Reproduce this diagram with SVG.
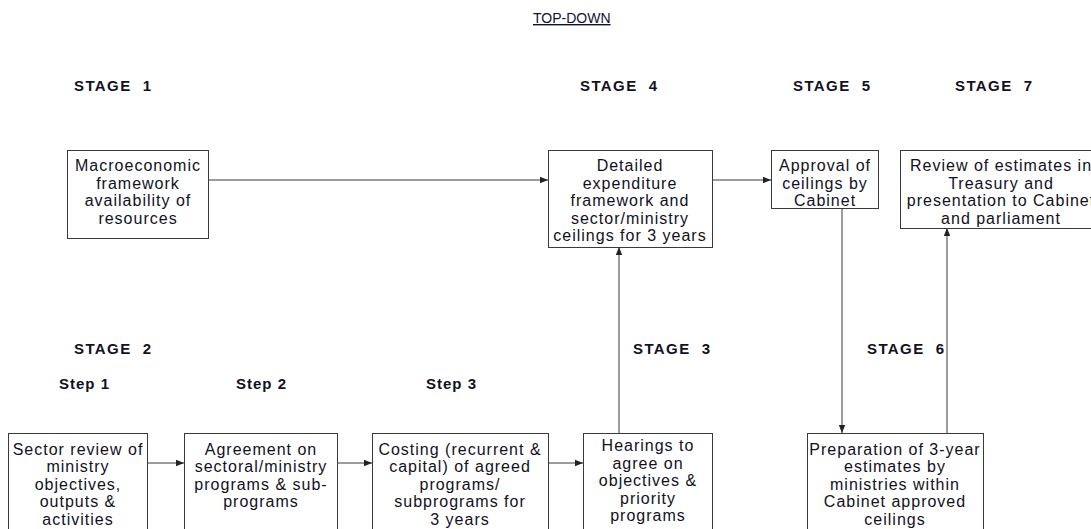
<svg xmlns="http://www.w3.org/2000/svg" width="1091" height="529" viewBox="0 0 1091 529">
<style>
.bg{fill:#ffffff}
.box{fill:#ffffff;stroke:#3a3a3a;stroke-width:1}
.t{font-family:"Liberation Sans",Arial,sans-serif;font-size:16px;letter-spacing:1px;fill:#111122;text-anchor:middle}
.stage{font-family:"Liberation Sans",Arial,sans-serif;font-size:15px;font-weight:bold;fill:#111122;letter-spacing:1.4px}
.step{font-family:"Liberation Sans",Arial,sans-serif;font-size:15px;font-weight:bold;fill:#111122;letter-spacing:1px}
.title{font-family:"Liberation Sans",Arial,sans-serif;font-size:14px;fill:#111133;text-decoration:underline}
.c{stroke:#3a3a3a;stroke-width:1;fill:none;marker-end:url(#ah)}
</style>
<defs>
<marker id="ah" viewBox="0 0 10 10" refX="10" refY="5" markerWidth="8" markerHeight="8" markerUnits="userSpaceOnUse" orient="auto">
<path d="M0,1 L10,5 L0,9 Z" fill="#222222"/>
</marker>
</defs>
<rect class="bg" x="0" y="0" width="1091" height="529"/>
<text class="title" x="533" y="23">TOP-DOWN</text>

<g id="labels">
<text class="stage" x="74" y="91" xml:space="preserve">STAGE  1</text>
<text class="stage" x="580" y="91" xml:space="preserve">STAGE  4</text>
<text class="stage" x="793" y="91" xml:space="preserve">STAGE  5</text>
<text class="stage" x="955" y="91" xml:space="preserve">STAGE  7</text>
<text class="stage" x="74" y="354" xml:space="preserve">STAGE  2</text>
<text class="stage" x="633" y="354" xml:space="preserve">STAGE  3</text>
<text class="stage" x="867" y="354" xml:space="preserve">STAGE  6</text>
<text class="step" x="59" y="389">Step 1</text>
<text class="step" x="236" y="389">Step 2</text>
<text class="step" x="426" y="389">Step 3</text>
</g>

<g id="connectors">
<line class="c" x1="208" y1="180" x2="548" y2="180"/>
<line class="c" x1="712" y1="180" x2="771" y2="180"/>
<line class="c" x1="842" y1="208" x2="842" y2="433"/>
<line class="c" x1="947" y1="433" x2="947" y2="228"/>
<line class="c" x1="619" y1="433" x2="619" y2="247"/>
<line class="c" x1="147" y1="463" x2="184" y2="463"/>
<line class="c" x1="337" y1="463" x2="372" y2="463"/>
<line class="c" x1="548" y1="463" x2="583" y2="463"/>
</g>

<g id="n-macro">
<rect class="box" x="67.5" y="150.5" width="141" height="88"/>
<text class="t" x="138" y="171">Macroeconomic</text>
<text class="t" x="138" y="189">framework</text>
<text class="t" x="138" y="206">availability of</text>
<text class="t" x="138" y="224">resources</text>
</g>

<g id="n-detailed">
<rect class="box" x="548.5" y="150.5" width="164" height="97"/>
<text class="t" x="630" y="171">Detailed</text>
<text class="t" x="630" y="189">expenditure</text>
<text class="t" x="630" y="206">framework and</text>
<text class="t" x="630" y="224">sector/ministry</text>
<text class="t" x="630" y="241">ceilings for 3 years</text>
</g>

<g id="n-approval">
<rect class="box" x="771.5" y="150.5" width="107" height="58"/>
<text class="t" x="825" y="171">Approval of</text>
<text class="t" x="825" y="189">ceilings by</text>
<text class="t" x="825" y="206">Cabinet</text>
</g>

<g id="n-review">
<rect class="box" x="900.5" y="150.5" width="200" height="78"/>
<text class="t" x="1001" y="171">Review of estimates in</text>
<text class="t" x="1001" y="189">Treasury and</text>
<text class="t" x="1001" y="206">presentation to Cabinet</text>
<text class="t" x="1001" y="224">and parliament</text>
</g>

<g id="n-sector">
<rect class="box" x="8.5" y="433.5" width="139" height="110"/>
<text class="t" x="78" y="455">Sector review of</text>
<text class="t" x="78" y="472">ministry</text>
<text class="t" x="78" y="490">objectives,</text>
<text class="t" x="78" y="507">outputs &amp;</text>
<text class="t" x="78" y="525">activities</text>
</g>

<g id="n-agreement">
<rect class="box" x="184.5" y="433.5" width="153" height="110"/>
<text class="t" x="261" y="455">Agreement on</text>
<text class="t" x="261" y="472">sectoral/ministry</text>
<text class="t" x="261" y="490">programs &amp; sub-</text>
<text class="t" x="261" y="507">programs</text>
</g>

<g id="n-costing">
<rect class="box" x="372.5" y="433.5" width="176" height="110"/>
<text class="t" x="460" y="455">Costing (recurrent &amp;</text>
<text class="t" x="460" y="472">capital) of agreed</text>
<text class="t" x="460" y="490">programs/</text>
<text class="t" x="460" y="507">subprograms for</text>
<text class="t" x="460" y="525">3 years</text>
</g>

<g id="n-hearings">
<rect class="box" x="583.5" y="433.5" width="129" height="110"/>
<text class="t" x="648" y="451">Hearings to</text>
<text class="t" x="648" y="469">agree on</text>
<text class="t" x="648" y="486">objectives &amp;</text>
<text class="t" x="648" y="504">priority</text>
<text class="t" x="648" y="521">programs</text>
</g>

<g id="n-preparation">
<rect class="box" x="807.5" y="433.5" width="176" height="110"/>
<text class="t" x="895" y="455">Preparation of 3-year</text>
<text class="t" x="895" y="472">estimates by</text>
<text class="t" x="895" y="490">ministries within</text>
<text class="t" x="895" y="507">Cabinet approved</text>
<text class="t" x="895" y="525">ceilings</text>
</g>
</svg>
